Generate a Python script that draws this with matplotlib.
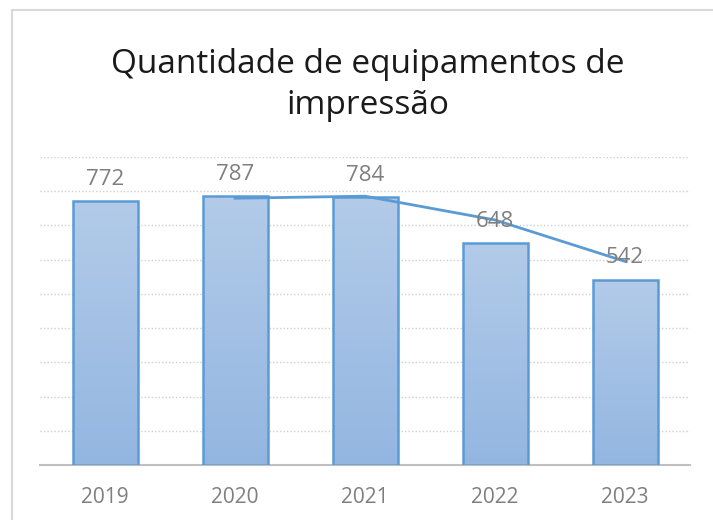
import numpy as np
import pandas as pd
import matplotlib
matplotlib.use("Agg")
import matplotlib.pyplot as plt
from matplotlib.colors import LinearSegmentedColormap
from matplotlib.patches import Rectangle

# Data
anos = ["2019", "2020", "2021", "2022", "2023"]
quantidade = [772, 787, 784, 648, 542]

titulo = "Quantidade de equipamentos de\nimpressão"

# 2-period moving average trendline (as in the original spreadsheet chart)
media_movel = pd.Series(quantidade).rolling(2).mean()

plt.rcParams['font.family'] = ['Open Sans', 'DejaVu Sans']

fig = plt.figure(figsize=(7.13, 5.2), dpi=100)

# light chart-area border (top/left visible)
fig.patches.append(Rectangle((12 / 713, -0.1), 1.2, 1 - 10 / 520 + 0.1,
                             transform=fig.transFigure, fill=False,
                             edgecolor="#d9d9d9", lw=1.5, zorder=0))

ax = fig.add_axes([40 / 713, 1 - 465 / 520, 650 / 713, (465 - 157) / 520])

x = np.arange(len(anos))
bars = ax.bar(x, quantidade, width=0.5, color="none", edgecolor="#5b9bd5",
              linewidth=1.8, zorder=3)

# gradient fill inside each bar
cmap = LinearSegmentedColormap.from_list("grad", ["#93b6e1", "#b3cbe9"])
grad = np.linspace(0, 1, 256).reshape(-1, 1)
for b in bars:
    x0, w, h = b.get_x(), b.get_width(), b.get_height()
    im = ax.imshow(grad, cmap=cmap, aspect="auto", origin="lower",
                   extent=[x0, x0 + w, 0, h], zorder=2)
    im.set_clip_path(b)

ax.plot(x, media_movel, color="#5b9bd5", lw=2, zorder=4)

for xi, v in zip(x, quantidade):
    ax.annotate(str(v), (xi, v), xytext=(0, 8), textcoords="offset points",
                ha="center", va="bottom", fontsize=16, color="#7f7f7f",
                zorder=5)

ax.set_xlim(-0.5, len(anos) - 0.5)
ax.set_ylim(0, 900)
ax.set_yticks(np.arange(100, 901, 100))
ax.yaxis.grid(True, linestyle=(0, (1, 1.5)), color="#cfcfcf", lw=1)
ax.set_axisbelow(True)
ax.tick_params(axis="y", left=False, labelleft=False)
ax.tick_params(axis="x", bottom=False, labelsize=15, labelcolor="#7f7f7f", pad=12)
ax.set_xticks(x)
ax.set_xticklabels(anos)
for s in ["top", "right", "left"]:
    ax.spines[s].set_visible(False)
ax.spines["bottom"].set_color("#c0c0c0")
ax.spines["bottom"].set_linewidth(1.5)

fig.text(0.516, 1 - 85 / 520, titulo, ha="center", va="center", fontsize=24,
         color="#1a1a1a", linespacing=1.35)

fig.savefig("out.png", dpi=100)
